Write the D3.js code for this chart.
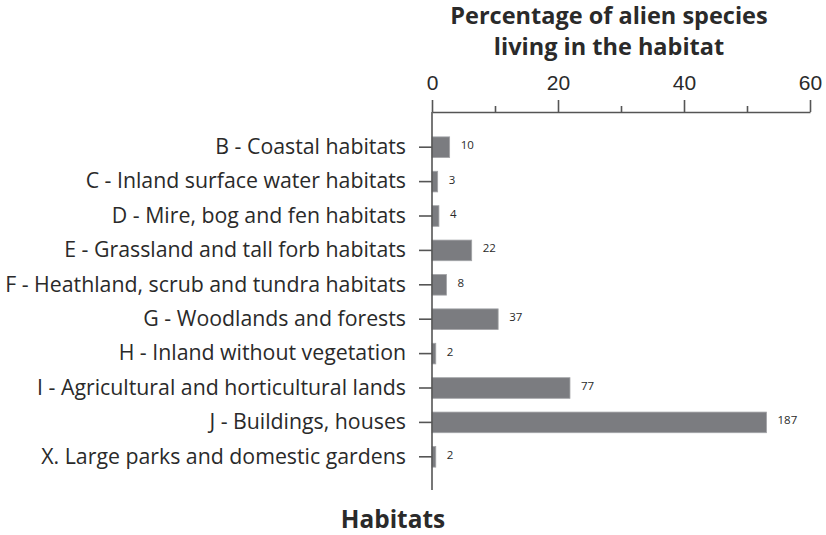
<!DOCTYPE html>
<html>
<head>
<meta charset="utf-8">
<script src="https://cdn.jsdelivr.net/npm/d3@7"></script>
<style>
  html, body { margin: 0; padding: 0; background: #fff; }
  svg { display: block; }
</style>
</head>
<body>
<svg id="chart" width="826" height="535"></svg>
<script>
const categories = [
  "B - Coastal habitats",
  "C - Inland surface water habitats",
  "D - Mire, bog and fen habitats",
  "E - Grassland and tall forb habitats",
  "F - Heathland, scrub and tundra habitats",
  "G - Woodlands and forests",
  "H - Inland without vegetation",
  "I - Agricultural and horticultural lands",
  "J - Buildings, houses",
  "X. Large parks and domestic gardens"
];
const percentages = [2.8, 0.9, 1.1, 6.3, 2.3, 10.5, 0.6, 21.9, 53.1, 0.6];
const counts = [10, 3, 4, 22, 8, 37, 2, 77, 187, 2];
const majorTicks = [0, 20, 40, 60];
const minorTicks = [10, 30, 50];
const titleLines = ["Percentage of alien species", "living in the habitat"];
const yTitle = "Habitats";

const svg = d3.select("#chart");
const labelFont = "'Open Sans', Lato, sans-serif";
const ink = "#2a2a2a";
const axisColor = "#555";

const x = d3.scaleLinear().domain([0, 60]).range([432, 810]);
const y = d3.scaleBand().domain(categories).range([130, 474]).paddingInner(0.4).paddingOuter(0.2);

// Title
svg.append("g").selectAll("text").data(titleLines).join("text")
  .attr("x", 609).attr("y", (d, i) => 24 + i * 31)
  .attr("text-anchor", "middle")
  .attr("font-family", labelFont).attr("font-weight", 700)
  .attr("font-size", 23.5).attr("fill", ink)
  .text(d => d);

// Top axis (major)
const xAxis = svg.append("g").attr("transform", "translate(0,112)")
  .call(d3.axisTop(x).tickValues(majorTicks).tickSize(12).tickPadding(10).tickSizeOuter(0));
xAxis.select(".domain").attr("stroke", axisColor).attr("stroke-width", 1.6);
xAxis.selectAll(".tick line").attr("stroke", axisColor).attr("stroke-width", 1.6);
xAxis.selectAll(".tick text")
  .attr("font-family", "'Liberation Sans', Arial, sans-serif")
  .attr("font-size", 21).attr("fill", ink);

// Minor ticks
const xMinor = svg.append("g").attr("transform", "translate(0,112)")
  .call(d3.axisTop(x).tickValues(minorTicks).tickSize(6).tickFormat(""));
xMinor.select(".domain").remove();
xMinor.selectAll(".tick line").attr("stroke", axisColor).attr("stroke-width", 1.6);

// Bars
svg.append("g").selectAll("rect").data(categories).join("rect")
  .attr("x", x(0))
  .attr("y", d => y(d))
  .attr("width", (d, i) => x(percentages[i]) - x(0))
  .attr("height", y.bandwidth())
  .attr("fill", "#7b7c80")
  .attr("stroke", "#a3a4a7")
  .attr("stroke-width", 0.8);

// Count labels
svg.append("g").selectAll("text").data(categories).join("text")
  .attr("x", (d, i) => x(percentages[i]) + 11)
  .attr("y", d => y(d) + y.bandwidth() / 2 - 1)
  .attr("dominant-baseline", "middle")
  .attr("font-family", labelFont)
  .attr("font-size", 11.5).attr("fill", ink)
  .text((d, i) => counts[i]);

// Left axis
const yAxis = svg.append("g").attr("transform", `translate(${x(0)},0)`)
  .call(d3.axisLeft(y).tickSize(13).tickPadding(13));
yAxis.select(".domain").remove();
yAxis.selectAll(".tick line").attr("stroke", axisColor).attr("stroke-width", 1.6);
yAxis.selectAll(".tick text")
  .attr("font-family", labelFont)
  .attr("font-size", 21.3).attr("fill", ink);

// Vertical axis line
svg.append("line")
  .attr("x1", x(0)).attr("x2", x(0))
  .attr("y1", 112).attr("y2", 490)
  .attr("stroke", axisColor).attr("stroke-width", 1.6);

// Y title
svg.append("text")
  .attr("x", 393).attr("y", 528)
  .attr("text-anchor", "middle")
  .attr("font-family", labelFont).attr("font-weight", 700)
  .attr("font-size", 24.4).attr("fill", ink)
  .text(yTitle);
</script>
</body>
</html>
